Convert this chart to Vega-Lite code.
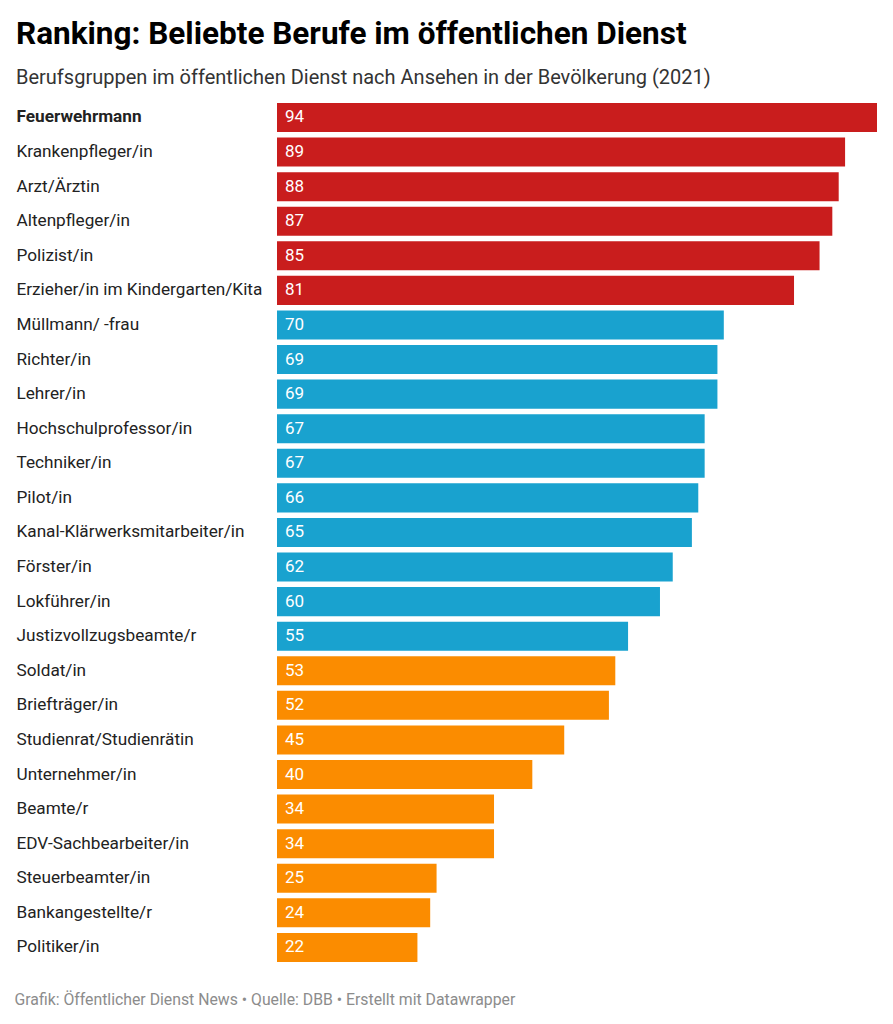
{
  "$schema": "https://vega.github.io/schema/vega-lite/v6.json",
  "width": 600,
  "height": 864.5,
  "autosize": {"type": "none"},
  "padding": {"left": 277, "top": 100.2, "right": 16, "bottom": 59.3},
  "background": "#ffffff",
  "config": {"view": {"stroke": null}, "font": "Roboto"},
  "title": {
    "text": "Ranking: Beliebte Berufe im öffentlichen Dienst",
    "subtitle": "Berufsgruppen im öffentlichen Dienst nach Ansehen in der Bevölkerung (2021)",
    "anchor": "start",
    "frame": "group",
    "dx": -261,
    "offset": 12,
    "font": "Roboto",
    "fontSize": 31.5,
    "fontWeight": "bold",
    "color": "#000000",
    "subtitleFont": "Roboto",
    "subtitleFontSize": 20,
    "subtitleColor": "#333333",
    "subtitlePadding": 18
  },
  "data": {
    "values": [
      {"beruf": "Feuerwehrmann", "wert": 94, "gruppe": "hoch"},
      {"beruf": "Krankenpfleger/in", "wert": 89, "gruppe": "hoch"},
      {"beruf": "Arzt/Ärztin", "wert": 88, "gruppe": "hoch"},
      {"beruf": "Altenpfleger/in", "wert": 87, "gruppe": "hoch"},
      {"beruf": "Polizist/in", "wert": 85, "gruppe": "hoch"},
      {"beruf": "Erzieher/in im Kindergarten/Kita", "wert": 81, "gruppe": "hoch"},
      {"beruf": "Müllmann/ -frau", "wert": 70, "gruppe": "mittel"},
      {"beruf": "Richter/in", "wert": 69, "gruppe": "mittel"},
      {"beruf": "Lehrer/in", "wert": 69, "gruppe": "mittel"},
      {"beruf": "Hochschulprofessor/in", "wert": 67, "gruppe": "mittel"},
      {"beruf": "Techniker/in", "wert": 67, "gruppe": "mittel"},
      {"beruf": "Pilot/in", "wert": 66, "gruppe": "mittel"},
      {"beruf": "Kanal-Klärwerksmitarbeiter/in", "wert": 65, "gruppe": "mittel"},
      {"beruf": "Förster/in", "wert": 62, "gruppe": "mittel"},
      {"beruf": "Lokführer/in", "wert": 60, "gruppe": "mittel"},
      {"beruf": "Justizvollzugsbeamte/r", "wert": 55, "gruppe": "mittel"},
      {"beruf": "Soldat/in", "wert": 53, "gruppe": "niedrig"},
      {"beruf": "Briefträger/in", "wert": 52, "gruppe": "niedrig"},
      {"beruf": "Studienrat/Studienrätin", "wert": 45, "gruppe": "niedrig"},
      {"beruf": "Unternehmer/in", "wert": 40, "gruppe": "niedrig"},
      {"beruf": "Beamte/r", "wert": 34, "gruppe": "niedrig"},
      {"beruf": "EDV-Sachbearbeiter/in", "wert": 34, "gruppe": "niedrig"},
      {"beruf": "Steuerbeamter/in", "wert": 25, "gruppe": "niedrig"},
      {"beruf": "Bankangestellte/r", "wert": 24, "gruppe": "niedrig"},
      {"beruf": "Politiker/in", "wert": 22, "gruppe": "niedrig"}
    ]
  },
  "encoding": {
    "y": {
      "field": "beruf",
      "type": "nominal",
      "sort": null,
      "scale": {"paddingInner": 0.16, "paddingOuter": 0.08},
      "axis": {
        "title": null,
        "domain": false,
        "ticks": false,
        "labelAlign": "left",
        "labelPadding": 261,
        "labelFont": "Roboto",
        "labelFontSize": 17.2,
        "labelColor": "#222222",
        "labelLimit": 300,
        "labelFontWeight": {"condition": {"test": "datum.value == 'Feuerwehrmann'", "value": "bold"}, "value": "normal"}
      }
    },
    "x": {
      "field": "wert",
      "type": "quantitative",
      "scale": {"domain": [0, 94], "nice": false},
      "axis": {
        "title": "Grafik: Öffentlicher Dienst News • Quelle: DBB • Erstellt mit Datawrapper",
        "labels": false,
        "ticks": false,
        "domain": false,
        "grid": false,
        "titleFont": "Roboto",
        "titleFontSize": 15.8,
        "titleFontWeight": "normal",
        "titleColor": "#8c8c8c",
        "titleAlign": "left",
        "titleAnchor": "start",
        "titleBaseline": "alphabetic",
        "titleX": -263,
        "titleY": 40
      }
    }
  },
  "layer": [
    {
      "mark": {"type": "bar"},
      "encoding": {
        "color": {
          "field": "gruppe",
          "type": "nominal",
          "scale": {"domain": ["hoch", "mittel", "niedrig"], "range": ["#c91d1d", "#19a2cf", "#fb8c00"]},
          "legend": null
        }
      }
    },
    {
      "mark": {"type": "text", "align": "left", "baseline": "middle", "dx": 8, "font": "Roboto", "fontSize": 17, "color": "#ffffff"},
      "encoding": {
        "x": {"datum": 0, "type": "quantitative"},
        "text": {"field": "wert", "type": "quantitative"}
      }
    }
  ]
}
